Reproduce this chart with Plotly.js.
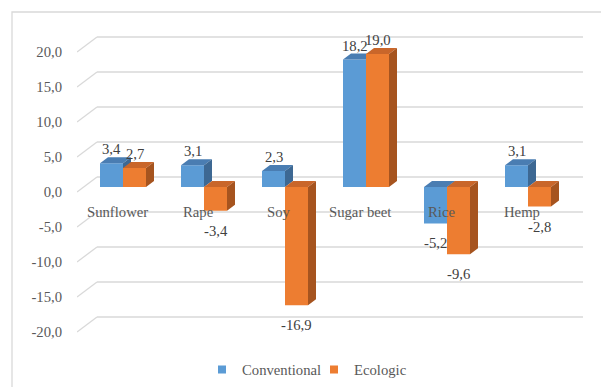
<!DOCTYPE html>
<html>
<head>
<meta charset="utf-8">
<script src="https://cdn.plot.ly/plotly-3.0.1.min.js"></script>
<style>html,body{margin:0;padding:0;background:#fff;}#chart{width:601px;height:387px;}</style>
</head>
<body>
<div id="chart"></div>
<script>
// ---- data ----
const categories = ["Sunflower", "Rape", "Soy", "Sugar beet", "Rice", "Hemp"];
const conventional = [3.4, 3.1, 2.3, 18.2, -5.2, 3.1];
const ecologic = [2.7, -3.4, -16.9, 19.0, -9.6, -2.8];
const seriesNames = ["Conventional", "Ecologic"];
const gridValues = [-20, -15, -10, -5, 0, 5, 10, 15, 20];
const tickLabels = ["-20,0", "-15,0", "-10,0", "-5,0", "0,0", "5,0", "10,0", "15,0", "20,0"];

// ---- styling / geometry (pixels) ----
const W = 601, H = 387;
const L = 77, R = 583, T = 30, B = 340;       // plot area
const catPx = 81, unitPx = 7;                  // px per category, px per value unit
const firstCenterPx = 123, zeroPx = 187;       // bar-plane mapping
const barPx = 23, depthX = 8, depthY = 6;      // bar size and 3D depth
const frontShiftX = -6, frontShiftY = 5;       // front plane offset from bar plane
const backShiftX = 20, backShiftY = -15;       // back wall offset from front plane
const legendLeftPx = [202, 314];               // left edge of each legend entry
const fontSize = 14.7;

const colors = [
  {front: "#5B9BD5", top: "#4A7DB2", side: "#3D6893"},
  {front: "#ED7D31", top: "#C9662A", side: "#A6541F"}
];
const textColor = "#595959";
const font = "Liberation Serif";
const gridColor = "#D9D9D9";

const dxu = px => px / catPx;      // px -> x data units
const dyu = px => px / unitPx;     // px -> y data units (upwards)

const xRange = [(L - firstCenterPx) / catPx, (R - firstCenterPx) / catPx];
const yRange = [(zeroPx - B) / unitPx, (zeroPx - T) / unitPx];

const bw = dxu(barPx), ddx = dxu(depthX), ddy = dyu(depthY);

const series = [conventional, ecologic];
const traces = [];
const annotations = [];

series.forEach((vals, s) => {
  const fx = [], fy = [], tx = [], ty = [], sx = [], sy = [];
  vals.forEach((v, i) => {
    const x0 = i - bw + s * bw, x1 = x0 + bw;
    const hi = Math.max(v, 0), lo = Math.min(v, 0);
    fx.push(x0, x1, x1, x0, x0, null); fy.push(lo, lo, hi, hi, lo, null);
    tx.push(x0, x1, x1 + ddx, x0 + ddx, x0, null); ty.push(hi, hi, hi + ddy, hi + ddy, hi, null);
    sx.push(x1, x1 + ddx, x1 + ddx, x1, x1, null); sy.push(lo, lo + ddy, hi + ddy, hi, lo, null);
    annotations.push({
      x: x0 + bw / 2, y: v >= 0 ? v + dyu(14) : v - dyu(20),
      xref: "x", yref: "y", showarrow: false,
      text: v.toFixed(1).replace(".", ","),
      font: {family: font, size: fontSize, color: "#404040"}
    });
  });
  const base = {type: "scatter", mode: "lines", fill: "toself", line: {width: 0},
    hoverinfo: "skip", showlegend: false};
  traces.push(Object.assign({}, base, {x: fx, y: fy, fillcolor: colors[s].front}));
  traces.push(Object.assign({}, base, {x: tx, y: ty, fillcolor: colors[s].top}));
  traces.push(Object.assign({}, base, {x: sx, y: sy, fillcolor: colors[s].side}));
});

// legend-only traces (one legend box per series)
seriesNames.forEach((name, s) => {
  traces.push({type: "scatter", mode: "markers", x: [null], y: [null], name: name,
    legend: s === 0 ? "legend" : "legend2",
    marker: {symbol: "square", size: 8, color: colors[s].front}, showlegend: true});
});

// category labels on the front plane
categories.forEach((c, i) => {
  annotations.push({
    x: i + dxu(frontShiftX), y: -dyu(frontShiftY + 20),
    xref: "x", yref: "y", showarrow: false, text: c,
    font: {family: font, size: fontSize, color: textColor}
  });
});

// gridlines: floor diagonal + back wall
const shapes = [];
const xFront = xRange[0];
const xBack = xFront + dxu(backShiftX);
gridValues.forEach(g => {
  const yF = g - dyu(frontShiftY);
  const yB = yF - dyu(backShiftY);
  shapes.push({type: "line", xref: "x", yref: "y", x0: xFront, y0: yF, x1: xBack, y1: yB,
    line: {color: gridColor, width: 1.3}, layer: "below"});
  shapes.push({type: "line", xref: "x", yref: "y", x0: xBack, y0: yB, x1: xRange[1], y1: yB,
    line: {color: gridColor, width: 1.3}, layer: "below"});
});
// outer chart border
const pw = R - L, ph = B - T;
shapes.push({type: "rect", xref: "paper", yref: "paper",
  x0: (12 - L) / pw, x1: (W + 10 - L) / pw, y0: (B - (H + 10)) / ph, y1: (B - 12) / ph,
  line: {color: gridColor, width: 1.3}, fillcolor: "rgba(0,0,0,0)", layer: "below"});

const legendBase = {orientation: "h", xref: "container", yref: "container",
  xanchor: "left", y: (H - 370) / H, yanchor: "middle",
  font: {family: font, size: fontSize, color: textColor}, bgcolor: "rgba(0,0,0,0)", borderwidth: 0};

const layout = {
  width: W, height: H,
  font: {family: font, size: fontSize, color: textColor},
  margin: {l: L, r: W - R, t: T, b: H - B, pad: 0, autoexpand: false},
  paper_bgcolor: "#fff", plot_bgcolor: "rgba(0,0,0,0)",
  xaxis: {range: xRange, showgrid: false, zeroline: false, showticklabels: false,
    showline: false, ticks: "", fixedrange: true},
  yaxis: {range: yRange, showgrid: false, zeroline: false, showline: false,
    tickmode: "array", tickvals: gridValues.map(g => g - dyu(frontShiftY)), ticktext: tickLabels,
    ticks: "outside", ticklen: 11, tickcolor: "rgba(0,0,0,0)",
    tickfont: {family: font, size: fontSize, color: textColor}, fixedrange: true},
  showlegend: true,
  legend: Object.assign({}, legendBase, {x: legendLeftPx[0] / W}),
  legend2: Object.assign({}, legendBase, {x: legendLeftPx[1] / W}),
  shapes: shapes,
  annotations: annotations
};

Plotly.newPlot("chart", traces, layout, {displayModeBar: false, staticPlot: true});
</script>
</body>
</html>
